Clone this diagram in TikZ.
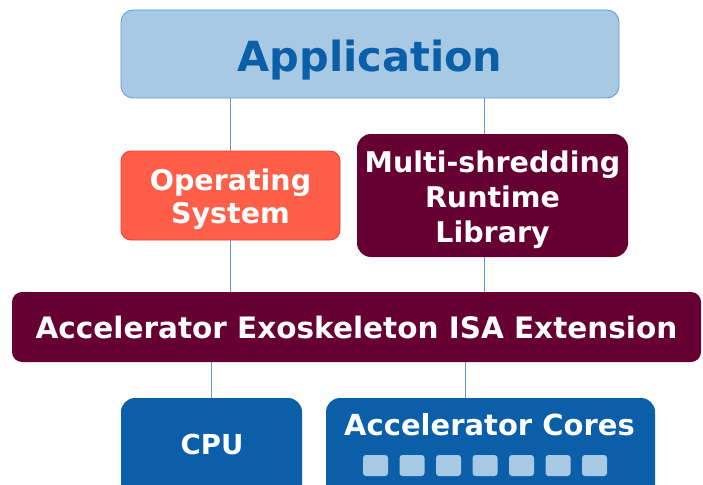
\documentclass[tikz,border=0pt]{standalone}
\usepackage{fontspec}
\setmainfont{DejaVu Sans}
\definecolor{appfill}{HTML}{A7C9E3}
\definecolor{appdraw}{HTML}{5B9BD5}
\definecolor{apptext}{HTML}{0B5EA8}
\definecolor{osfill}{HTML}{FF5E48}
\definecolor{osdraw}{HTML}{EE3A2E}
\definecolor{maroon}{HTML}{660033}
\definecolor{cpublue}{HTML}{0B5EA8}
\definecolor{linkblue}{HTML}{5B9BD5}
\tikzset{
  box/.style={rectangle, inner sep=0pt, align=center, text=white},
  link/.style={draw=linkblue, line width=0.9pt},
}
\begin{document}
\begin{tikzpicture}[x=1pt,y=-1pt]
\useasboundingbox (0,0) rectangle (703,484);
\clip (0,0) rectangle (703,484);
\fill[white] (0,0) rectangle (703,484);
% boxes
\node[box, fill=appfill, draw=appdraw, line width=0.8pt, rounded corners=12pt,
  minimum width=498pt, minimum height=88pt] (app) at (370,54) {};
\node[text=apptext, font={\bfseries\fontsize{41.5}{48}\selectfont}, anchor=base]
  (apptxt) at (370,72) {Application};
\node[box, fill=osfill, draw=osdraw, line width=0.8pt, rounded corners=10pt,
  minimum width=219pt, minimum height=89pt] (os) at (230.5,195.5) {};
\node[align=center, text=white, font={\bfseries\fontsize{28.5}{33}\selectfont}]
  (ostxt) at (230.5,199) {Operating\\System};
\node[box, fill=maroon, rounded corners=14pt,
  minimum width=271pt, minimum height=123pt] (mrl) at (492.5,195.5) {};
\node[align=center, text=white, font={\bfseries\fontsize{28.5}{35}\selectfont}]
  (mrltxt) at (492.5,200) {Multi-shredding\\Runtime\\Library};
\node[box, fill=maroon, rounded corners=10pt,
  minimum width=689pt, minimum height=70pt,
  font={\bfseries\fontsize{29.5}{34}\selectfont}] (isa) at (356.5,327) {Accelerator Exoskeleton ISA Extension};
\node[box, fill=cpublue, rounded corners=14pt,
  minimum width=181pt, minimum height=110pt] (cpu) at (211.5,453) {};
\node[box, fill=cpublue, rounded corners=14pt,
  minimum width=329pt, minimum height=110pt] (ac) at (490.5,453) {};
\node[text=white, font={\bfseries\fontsize{27.5}{32}\selectfont}, anchor=base] (cputxt) at (212,454) {CPU};
\node[text=white, font={\bfseries\fontsize{29}{32}\selectfont}, anchor=base] (actxt) at (489.5,435.5) {Accelerator Cores};
\foreach \i in {0,...,6}{
  \node[rectangle, fill=appfill, rounded corners=3pt, minimum width=25pt,
    minimum height=21pt, inner sep=0pt] (sq\i) at (375.5+36.5*\i,465.5) {};
}
% connectors
\draw[link] (os.north) -- (os.north |- app.south);
\draw[link] ([xshift=-8.5pt]mrl.north) -- ([xshift=-8.5pt]mrl.north |- app.south);
\draw[link] (os.south) -- (os.south |- isa.north);
\draw[link] ([xshift=-8.5pt]mrl.south) -- ([xshift=-8.5pt]mrl.south |- isa.north);
\draw[link] (cpu.north) -- (cpu.north |- isa.south);
\draw[link] ([xshift=-25.5pt]ac.north) -- ([xshift=-25.5pt]ac.north |- isa.south);
\end{tikzpicture}
\end{document}
